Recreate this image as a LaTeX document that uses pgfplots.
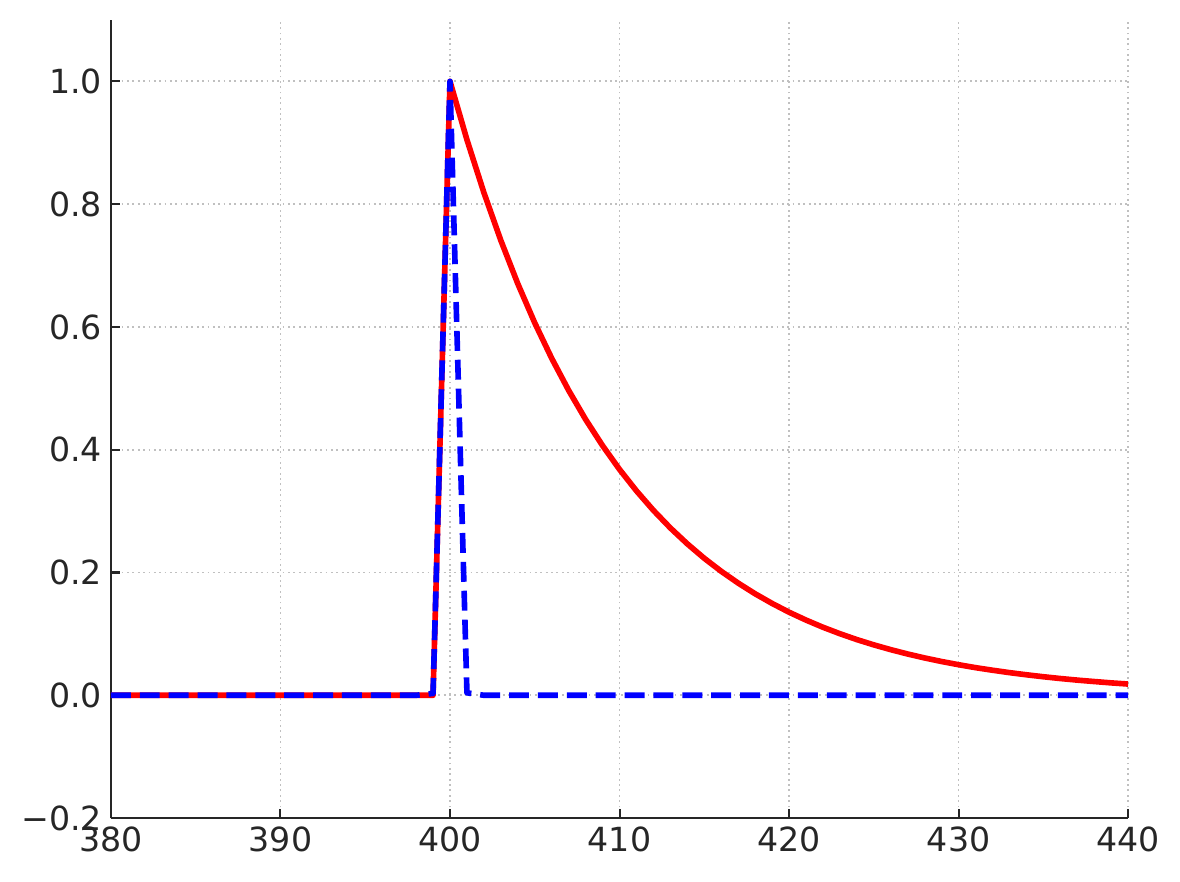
\documentclass[border=0pt]{standalone}
\usepackage{pgfplots}
\pgfplotsset{compat=1.18}
\usepackage{fontspec}
\setmainfont{DejaVu Sans}
\definecolor{txt}{HTML}{262626}
\definecolor{gridc}{HTML}{C0C0C0}
\begin{document}
\begin{tikzpicture}
\begin{axis}[
  scale only axis,
  width=397.96pt, height=312.26pt,
  xmin=380, xmax=440, ymin=-0.2, ymax=1.1,
  axis lines=left,
  axis line style={-, txt, line width=0.8pt},
  tick align=inside,
  xtick pos=bottom, ytick pos=left,
  major tick length=3.7pt,
  tick style={txt, line width=0.8pt},
  xtick={380,390,...,440},
  xticklabels={380,390,400,410,420,430,440},
  ytick={-0.2,0,0.2,0.4,0.6,0.8,1.0},
  yticklabels={−0.2,0.0,0.2,0.4,0.6,0.8,1.0},
  ticklabel style={font=\fontsize{13}{15}\selectfont, text=txt},
  grid=major,
  major grid style={gridc, line width=0.7pt, dash pattern=on 0.7pt off 1.4pt},
  clip=true,
]
\addplot[red, line width=2.2pt, line join=round] coordinates {
(380,0) (399,0) (400,1)
(401,0.9048) (402,0.8187) (403,0.7408) (404,0.6703) (405,0.6065)
(406,0.5488) (407,0.4966) (408,0.4493) (409,0.4066) (410,0.3679)
(411,0.3329) (412,0.3012) (413,0.2725) (414,0.2466) (415,0.2231)
(416,0.2019) (417,0.1827) (418,0.1653) (419,0.1496) (420,0.1353)
(421,0.1225) (422,0.1108) (423,0.1003) (424,0.0907) (425,0.0821)
(426,0.0743) (427,0.0672) (428,0.0608) (429,0.0550) (430,0.0498)
(431,0.0450) (432,0.0408) (433,0.0369) (434,0.0334) (435,0.0302)
(436,0.0273) (437,0.0247) (438,0.0224) (439,0.0202) (440,0.0183)
};
\addplot[blue, line width=2.2pt, dash pattern=on 7.8pt off 3.5pt, line join=round] coordinates {
(380,0) (398,0) (399,0.003) (400,1) (401,0.004) (402,0) (440,0)
};
\end{axis}
\path[use as bounding box] ([shift={(-43.4pt,-24.65pt)}]current axis.south west) rectangle ([shift={(20.3pt,7.8pt)}]current axis.north east);
\end{tikzpicture}
\end{document}
